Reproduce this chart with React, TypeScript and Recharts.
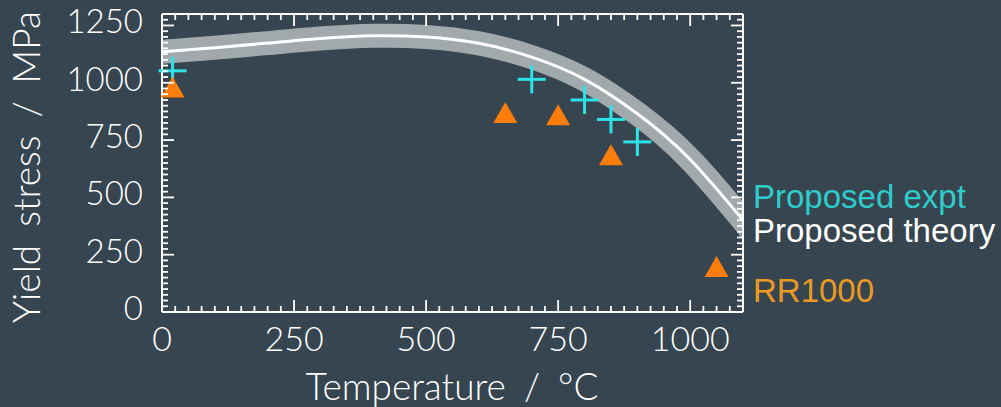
import { ComposedChart, Line, Scatter, XAxis, YAxis } from 'recharts'

document.body.style.margin = '0'

// theory curve (yield stress vs temperature)
const theoryTemp = [0, 100, 200, 300, 400, 500, 600, 700, 800, 900, 1000, 1100, 1120]
const theoryStress = [1135, 1153, 1173, 1193, 1205, 1200, 1172, 1112, 1015, 865, 665, 400, 345]

// proposed alloy, experimental points
const exptTemp = [20, 700, 800, 850, 900]
const exptStress = [1052, 1015, 925, 840, 742]

// RR1000 reference points
const rrTemp = [20, 650, 750, 850, 1050]
const rrStress = [982, 870, 860, 686, 198]

const xLabels = [0, 250, 500, 750, 1000]
const yLabels = [0, 250, 500, 750, 1000, 1250]
const xTicks = Array.from({ length: 45 }, (_, i) => i * 25)
const yTicks = Array.from({ length: 53 }, (_, i) => i * 25)

const BG = '#36454f'
const AXIS_FONT = 'Lato, "Liberation Sans", sans-serif'
const LEGEND_FONT = '"Liberation Sans", Arial, sans-serif'

const theory = theoryTemp.map((t, i) => ({ x: t, y: theoryStress[i] }))
const expt = exptTemp.map((t, i) => ({ x: t, y: exptStress[i] }))
const rr = rrTemp.map((t, i) => ({ x: t, y: rrStress[i] }))

const tickLen = (major: boolean) => (major ? 12 : 6)

const BottomTick = ({ x, y, payload }: any) => {
  const major = xLabels.includes(payload.value)
  return (
    <g>
      <line x1={x} x2={x} y1={y} y2={y - tickLen(major)} stroke="#fff" strokeWidth={1.8} />
      {major && (
        <text x={x} y={y + 39} textAnchor="middle" fill="#fff" fontSize={34} fontWeight={300} fontFamily={AXIS_FONT}>
          {payload.value}
        </text>
      )}
    </g>
  )
}

const TopTick = ({ x, y, payload }: any) => {
  const major = xLabels.includes(payload.value)
  return <line x1={x} x2={x} y1={y} y2={y + tickLen(major)} stroke="#fff" strokeWidth={1.8} />
}

const LeftTick = ({ x, y, payload }: any) => {
  const major = yLabels.includes(payload.value)
  return (
    <g>
      <line x1={x} x2={x + tickLen(major)} y1={y} y2={y} stroke="#fff" strokeWidth={1.8} />
      {major && (
        <text x={x - 19} y={y + 8} textAnchor="end" fill="#fff" fontSize={33} fontWeight={300} fontFamily={AXIS_FONT}>
          {payload.value}
        </text>
      )}
    </g>
  )
}

const RightTick = ({ x, y, payload }: any) => {
  const major = yLabels.includes(payload.value)
  return <line x1={x} x2={x - tickLen(major)} y1={y} y2={y} stroke="#fff" strokeWidth={1.8} />
}

const Cross = ({ cx, cy }: any) => (
  <g stroke="#2ee3e8" strokeWidth={3}>
    <line x1={cx - 14} x2={cx + 14} y1={cy} y2={cy} />
    <line x1={cx} x2={cx} y1={cy - 14} y2={cy + 14} />
  </g>
)

const Triangle = ({ cx, cy }: any) => (
  <polygon
    points={`${cx},${cy - 10.5} ${cx - 12},${cy + 10.5} ${cx + 12},${cy + 10.5}`}
    fill="#fb7d0c"
  />
)

const axisLine = { stroke: '#fff', strokeWidth: 2 }

export default function App() {
  return (
    <div style={{ position: 'relative', width: 1001, height: 407, background: BG }}>
      <ComposedChart width={1001} height={407} margin={{ top: 12, right: 256, left: 32, bottom: 0 }}>
        <XAxis
          dataKey="x"
          type="number"
          domain={[0, 1100]}
          ticks={xTicks}
          interval={0}
          allowDataOverflow
          height={95}
          tickSize={0}
          tickMargin={0}
          axisLine={axisLine}
          tickLine={false}
          tick={BottomTick}
        />
        <XAxis
          xAxisId="top"
          orientation="top"
          dataKey="x"
          type="number"
          domain={[0, 1100]}
          ticks={xTicks}
          interval={0}
          height={2}
          tickSize={0}
          tickMargin={0}
          axisLine={axisLine}
          tickLine={false}
          tick={TopTick}
        />
        <YAxis
          dataKey="y"
          type="number"
          domain={[0, 1300]}
          ticks={yTicks}
          interval={0}
          allowDataOverflow
          width={130}
          tickSize={0}
          tickMargin={0}
          axisLine={axisLine}
          tickLine={false}
          tick={LeftTick}
        />
        <YAxis
          yAxisId="right"
          orientation="right"
          dataKey="y"
          type="number"
          domain={[0, 1300]}
          ticks={yTicks}
          interval={0}
          width={2}
          tickSize={0}
          tickMargin={0}
          axisLine={axisLine}
          tickLine={false}
          tick={RightTick}
        />
        <Line
          data={theory}
          dataKey="y"
          type="natural"
          stroke="#a2a9ac"
          strokeWidth={24}
          dot={false}
          activeDot={false}
          isAnimationActive={false}
        />
        <Line
          data={theory}
          dataKey="y"
          type="natural"
          stroke="#ffffff"
          strokeWidth={3}
          dot={false}
          activeDot={false}
          isAnimationActive={false}
        />
        <Scatter
          data={expt}
          dataKey="y"
          xAxisId="top"
          yAxisId="right"
          shape={Cross}
          isAnimationActive={false}
        />
        <Scatter
          data={rr}
          dataKey="y"
          xAxisId="top"
          yAxisId="right"
          shape={Triangle}
          isAnimationActive={false}
        />
      </ComposedChart>
      <svg
        width={1001}
        height={407}
        style={{ position: 'absolute', left: 0, top: 0, pointerEvents: 'none' }}
      >
        <g fontFamily={AXIS_FONT} fontWeight={300} fill="#fff" fontSize={37} wordSpacing={8}>
          <text x={452} y={400} textAnchor="middle">
            Temperature / °C
          </text>
          <text x={40} y={167} textAnchor="middle" transform="rotate(-90 40 167)">
            Yield stress / MPa
          </text>
        </g>
        <g fontFamily={LEGEND_FONT} fontSize={33}>
          <text x={753} y={208} fill="#2fcccc">Proposed expt</text>
          <text x={753} y={242} fill="#ffffff">Proposed theory</text>
          <text x={753} y={302} fill="#ea9a22">RR1000</text>
        </g>
      </svg>
    </div>
  )
}
